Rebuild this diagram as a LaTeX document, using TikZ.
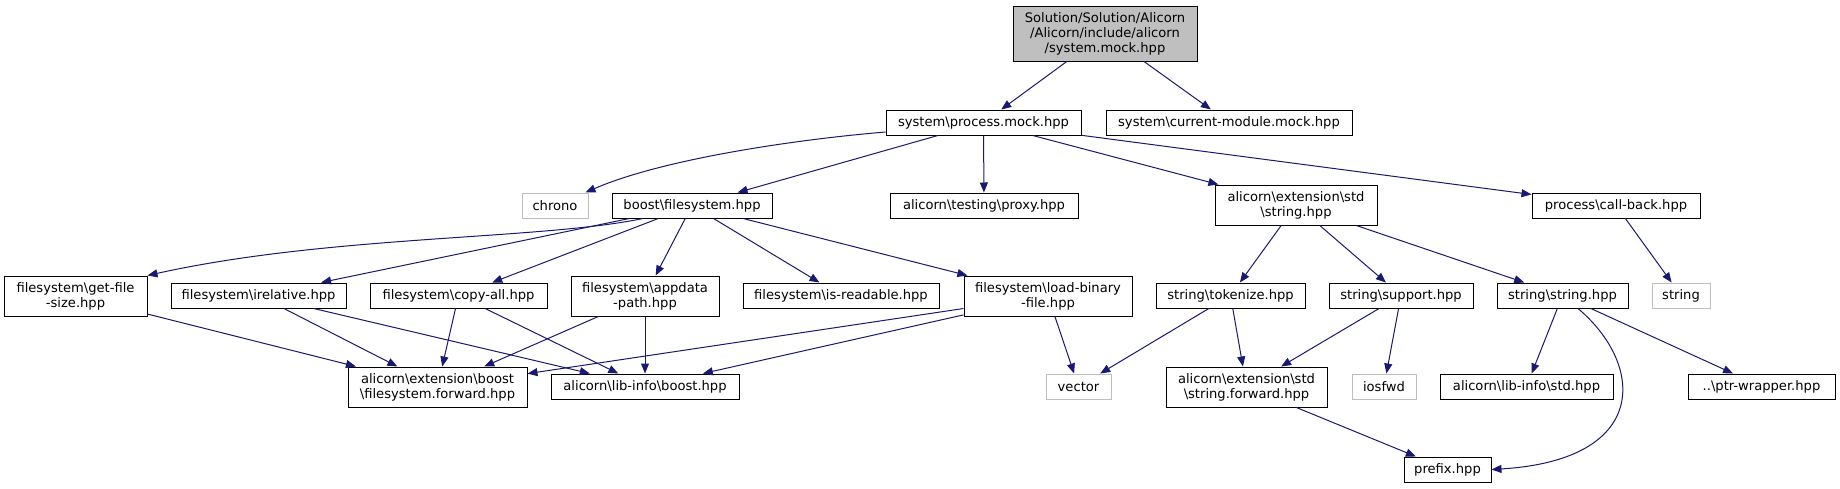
\documentclass[tikz,border=0pt]{standalone}
\usepackage{fontspec}
\setmainfont{DejaVu Sans}
\usepackage{tikz}
\usetikzlibrary{arrows.meta}
\definecolor{dotblue}{HTML}{191970}
\definecolor{dotgrey}{HTML}{BFBFBF}
\newcommand{\bsl}{\textbackslash}
\tikzset{
  file/.style={draw,line width=1pt,align=center,inner sep=0pt,minimum height=25pt,font=\fontsize{13.1}{15}\selectfont},
  twoline/.style={file,minimum height=40pt},
  sysfile/.style={file,draw=dotgrey},
  mainfile/.style={file,fill=dotgrey,minimum height=55pt},
  inc/.style={-{Triangle[length=10pt,width=8pt]},draw=dotblue,line width=1pt},
}

\begin{document}
\begin{tikzpicture}[x=1pt,y=-1pt]
\useasboundingbox (0,0) rectangle (1840,488);
% top
\node[mainfile, minimum width=184pt] (root) at (1105,33.5) {Solution/Solution/Alicorn\\/Alicorn/include/alicorn\\/system.mock.hpp};
\node[file, minimum width=195pt] (proc) at (983.5,122.5) {system\bsl process.mock.hpp};
\node[file, minimum width=246pt] (curmod) at (1229,122.5) {system\bsl current-module.mock.hpp};
% second row
\node[sysfile, minimum width=66pt] (chrono) at (555,205.5) {chrono};
\node[file, minimum width=160pt] (bfs) at (692,205.5) {boost\bsl filesystem.hpp};
\node[file, minimum width=188pt] (proxy) at (984,205.5) {alicorn\bsl testing\bsl proxy.hpp};
\node[twoline, minimum width=162pt] (extstr) at (1296,205) {alicorn\bsl extension\bsl std\\\bsl string.hpp};
\node[file, minimum width=168pt] (callback) at (1616,205.5) {process\bsl call-back.hpp};
% third row
\node[twoline, minimum width=143pt] (getsize) at (75.5,296) {filesystem\bsl get-file\\-size.hpp};
\node[file, minimum width=175pt] (irel) at (258.5,295.5) {filesystem\bsl irelative.hpp};
\node[file, minimum width=177pt] (copyall) at (458.5,295.5) {filesystem\bsl copy-all.hpp};
\node[twoline, minimum width=148pt] (appdata) at (645,296) {filesystem\bsl appdata\\-path.hpp};
\node[file, minimum width=196pt] (isread) at (841,295.5) {filesystem\bsl is-readable.hpp};
\node[twoline, minimum width=168pt] (loadbin) at (1048,296) {filesystem\bsl load-binary\\-file.hpp};
\node[file, minimum width=149pt] (tokenize) at (1230.5,295.5) {string\bsl tokenize.hpp};
\node[file, minimum width=144pt] (support) at (1401,295.5) {string\bsl support.hpp};
\node[file, minimum width=131pt] (sstr) at (1562.5,295.5) {string\bsl string.hpp};
\node[sysfile, minimum width=58pt] (string) at (1681,295.5) {string};
% fourth row
\node[twoline, minimum width=179pt] (bfwd) at (437.5,387) {alicorn\bsl extension\bsl boost\\\bsl filesystem.forward.hpp};
\node[file, minimum width=188pt] (libboost) at (645,386.5) {alicorn\bsl lib-info\bsl boost.hpp};
\node[sysfile, minimum width=65pt] (vector) at (1078.5,386.5) {vector};
\node[twoline, minimum width=161pt] (sfwd) at (1246.5,387) {alicorn\bsl extension\bsl std\\\bsl string.forward.hpp};
\node[sysfile, minimum width=64pt] (iosfwd) at (1384,386.5) {iosfwd};
\node[file, minimum width=173pt] (libstd) at (1526.5,386.5) {alicorn\bsl lib-info\bsl std.hpp};
\node[file, minimum width=147pt] (ptrw) at (1761.5,386.5) {..\bsl ptr-wrapper.hpp};
% bottom
\node[file, minimum width=87pt] (prefix) at (1447.5,469.5) {prefix.hpp};

\draw[inc] (root) -- (proc);
\draw[inc] (root) -- (curmod);
\draw[inc] ([yshift=-9.5pt]proc.west) .. controls (790,140) and (660,160) .. ([xshift=-3pt]chrono.north east);
\draw[inc] (proc) -- (bfs);
\draw[inc] (proc) -- (proxy);
\draw[inc] (proc) -- (extstr);
\draw[inc] (proc) -- (callback);
\draw[inc] ([xshift=-49pt]bfs.south) .. controls (540,240) and (330,235) .. (getsize.north east);
\draw[inc] (bfs) -- (irel);
\draw[inc] (bfs) -- (copyall);
\draw[inc] (bfs) -- (appdata);
\draw[inc] (bfs) -- (isread);
\draw[inc] (bfs) -- (loadbin);
\draw[inc] (extstr) -- (tokenize);
\draw[inc] (extstr) -- (support);
\draw[inc] (extstr) -- (sstr);
\draw[inc] (callback) -- (string);
\draw[inc] (getsize) -- (bfwd);
\draw[inc] (irel) -- (bfwd);
\draw[inc] (irel) -- (libboost);
\draw[inc] (copyall) -- (bfwd);
\draw[inc] (copyall) -- (libboost);
\draw[inc] (appdata) -- (bfwd);
\draw[inc] (appdata) -- (libboost);
\draw[inc] (loadbin) -- (bfwd);
\draw[inc] (loadbin) -- (libboost);
\draw[inc] (loadbin) -- (vector);
\draw[inc] (tokenize) -- (vector);
\draw[inc] (tokenize) -- (sfwd);
\draw[inc] (support) -- (sfwd);
\draw[inc] (support) -- (iosfwd);
\draw[inc] (sstr) -- (libstd);
\draw[inc] (sstr) -- (ptrw);
\draw[inc] ([xshift=15.5pt]sstr.south) .. controls (1645,365) and (1650,460) .. (prefix.east);
\draw[inc] (sfwd) -- (prefix);
\end{tikzpicture}
\end{document}
